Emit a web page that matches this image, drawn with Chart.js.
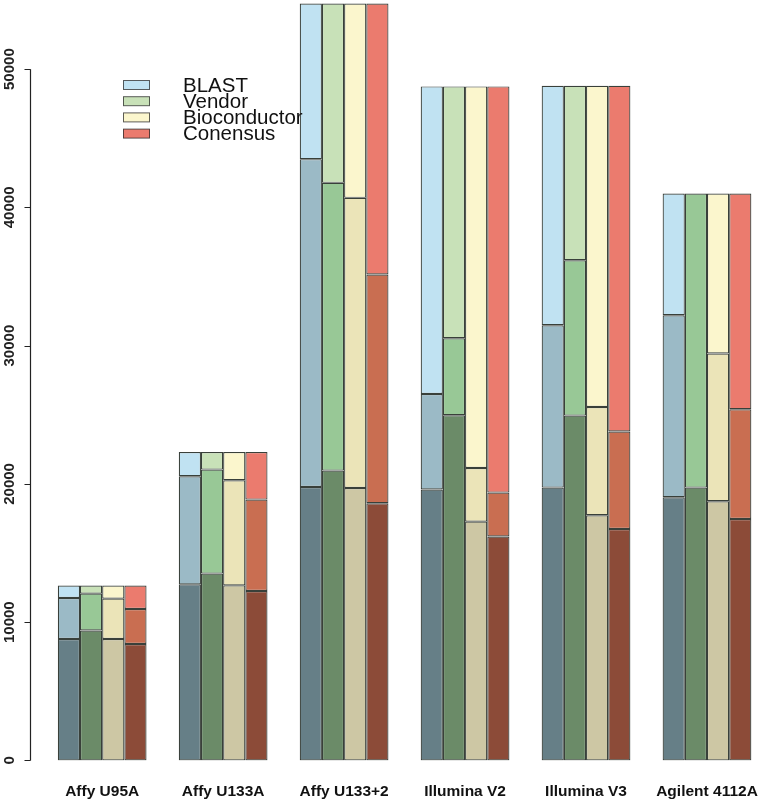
<!DOCTYPE html>
<html>
<head>
<meta charset="utf-8">
<script src="https://cdn.jsdelivr.net/npm/chart.js@4"></script>
<style>
	html, body { margin: 0; padding: 0; background: #fff; overflow: hidden; }
	#wrap { position: absolute; left: 0; top: 0; width: 780px; height: 823px; }
</style>
</head>
<body>
<div id="wrap"><canvas id="myChart"></canvas></div>
<script>
const platforms = ["Affy U95A", "Affy U133A", "Affy U133+2", "Illumina V2", "Illumina V3", "Agilent 4112A"];
const methods = ["BLAST", "Vendor", "Bioconductor", "Conensus"];
const yTicks = [0, 10000, 20000, 30000, 40000, 50000];

// segment heights of each bar: low (dark), mid, high (light)
const blastLow  = [8780, 12735, 19780, 19590, 19730, 19030];
const blastMid  = [2965, 7815, 23710, 6915, 11745, 13170];
const blastHigh = [905, 1750, 11260, 22245, 17325, 8800];

const vendorLow  = [9400, 13510, 20960, 24965, 24940, 19730];
const vendorMid  = [2660, 7525, 20815, 5570, 11240, 21270];
const vendorHigh = [590, 1265, 12975, 18215, 12620, null];

const biocLow  = [8780, 12660, 19705, 17270, 17730, 18740];
const biocMid  = [2920, 7600, 20985, 3880, 7835, 10690];
const biocHigh = [950, 2040, 14060, 27600, 23235, 11570];

const consLow  = [8420, 12250, 18600, 16190, 16740, 17460];
const consMid  = [2530, 6615, 16550, 3180, 7045, 7940];
const consHigh = [1700, 3435, 19600, 29380, 25015, 15600];

const lowColors  = ["#667f87", "#6b8b68", "#cdc7a4", "#8c4b38"];
const midColors  = ["#9bbac6", "#98c896", "#ebe4b8", "#c96e51"];
const highColors = ["#c0e2f2", "#c8e1b8", "#fbf6cd", "#eb7b6e"];

const segments = [
	[blastLow, blastMid, blastHigh],
	[vendorLow, vendorMid, vendorHigh],
	[biocLow, biocMid, biocHigh],
	[consLow, consMid, consHigh]
];

const datasets = [];
segments.forEach((segs, i) => {
	const colors = [lowColors[i], midColors[i], highColors[i]];
	segs.forEach((vals, j) => {
		datasets.push({
			label: methods[i],
			data: vals,
			stack: methods[i],
			backgroundColor: colors[j],
			borderColor: "rgba(22,30,24,0.85)",
			borderWidth: 1.2,
			borderSkipped: false,
			categoryPercentage: 0.7335,
			barPercentage: 1
		});
	});
});

// R style axis on the left and the legend in the corner
const rDecor = {
	id: "rDecor",
	afterDraw(chart) {
		const ctx = chart.ctx;
		const y = chart.scales.y;
		const x0 = 30.5;
		ctx.save();
		ctx.strokeStyle = "#222";
		ctx.lineWidth = 1.2;
		ctx.beginPath();
		ctx.moveTo(x0, y.getPixelForValue(yTicks[0]));
		ctx.lineTo(x0, y.getPixelForValue(yTicks[yTicks.length - 1]));
		yTicks.forEach(v => {
			const py = Math.round(y.getPixelForValue(v)) + 0.5;
			ctx.moveTo(x0 - 6, py);
			ctx.lineTo(x0, py);
		});
		ctx.stroke();

		ctx.fillStyle = "#222";
		ctx.font = "bold 15px 'Liberation Sans', Arial, sans-serif";
		ctx.textAlign = "center";
		ctx.textBaseline = "middle";
		yTicks.forEach(v => {
			ctx.save();
			ctx.translate(10, y.getPixelForValue(v));
			ctx.rotate(-Math.PI / 2);
			ctx.fillText(String(v), 0, 0);
			ctx.restore();
		});

		// legend
		ctx.font = "20.5px 'Liberation Sans', Arial, sans-serif";
		ctx.textAlign = "left";
		ctx.textBaseline = "alphabetic";
		methods.forEach((m, i) => {
			const top = 80.5 + i * 16.2;
			ctx.fillStyle = highColors[i];
			ctx.fillRect(123, top, 27, 9);
			ctx.strokeStyle = "rgba(40,40,40,0.75)";
			ctx.lineWidth = 1;
			ctx.strokeRect(123.5, top, 26, 9);
			ctx.fillStyle = "#111";
			ctx.fillText(m, 183, 91.6 + i * 16);
		});
		ctx.restore();
	}
};

new Chart(document.getElementById("myChart"), {
	type: "bar",
	data: { labels: platforms, datasets: datasets },
	options: {
		responsive: true,
		maintainAspectRatio: false,
		animation: false,
		layout: { padding: { left: 41.7, right: 2.1, top: 0, bottom: 0 } },
		scales: {
			x: {
				stacked: true,
				grid: { display: false, drawTicks: false },
				border: { display: false },
				ticks: {
					padding: 22,
					color: "#111",
					font: { family: "'Liberation Sans', Arial, sans-serif", size: 15.5, weight: "bold" }
				}
			},
			y: {
				stacked: true,
				display: false,
				min: 0,
				max: 55000
			}
		},
		plugins: {
			legend: { display: false },
			tooltip: { enabled: false }
		}
	},
	plugins: [rDecor]
});
</script>
</body>
</html>
